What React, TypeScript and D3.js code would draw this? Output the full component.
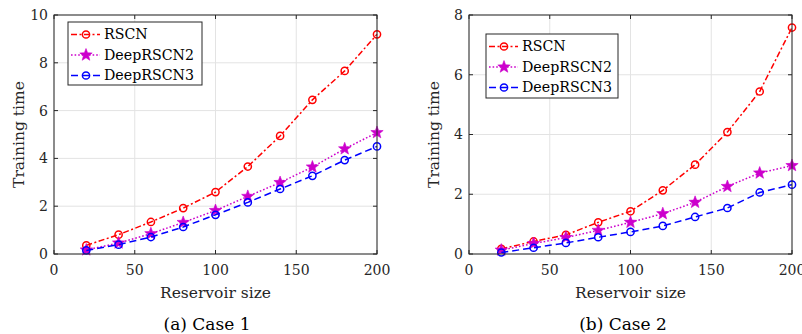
import React from "react";
import * as d3 from "d3";

const sizes = [20, 40, 60, 80, 100, 120, 140, 160, 180, 200];
const xTicks = [0, 50, 100, 150, 200];

const case1RSCN = [0.36, 0.81, 1.34, 1.92, 2.59, 3.66, 4.94, 6.45, 7.66, 9.19];
const case1Deep2 = [0.17, 0.46, 0.85, 1.32, 1.82, 2.41, 2.99, 3.64, 4.40, 5.08];
const case1Deep3 = [0.15, 0.39, 0.71, 1.13, 1.64, 2.16, 2.72, 3.27, 3.93, 4.50];
const case1YTicks = [0, 2, 4, 6, 8, 10];

const case2RSCN = [0.17, 0.42, 0.64, 1.06, 1.43, 2.13, 2.99, 4.08, 5.44, 7.58];
const case2Deep2 = [0.13, 0.35, 0.55, 0.79, 1.06, 1.35, 1.73, 2.26, 2.71, 2.96];
const case2Deep3 = [0.05, 0.21, 0.37, 0.56, 0.74, 0.94, 1.24, 1.54, 2.06, 2.32];
const case2YTicks = [0, 2, 4, 6, 8];

const seriesNames = ["RSCN", "DeepRSCN2", "DeepRSCN3"];
const styles = [
  { color: "#ff0000", dash: "6,2.5,2,2.5", marker: "circle" },
  { color: "#cc00cc", dash: "1.6,2", marker: "star" },
  { color: "#0000ff", dash: "7,4", marker: "circle" },
];

const FONT = "DejaVu Serif";

function starPath(cx: number, cy: number, R: number) {
  const r = R * 0.42;
  const pts: string[] = [];
  for (let i = 0; i < 10; i++) {
    const a = -Math.PI / 2 + (i * Math.PI) / 5;
    const rr = i % 2 === 0 ? R : r;
    pts.push(`${(cx + rr * Math.cos(a)).toFixed(2)},${(cy + rr * Math.sin(a)).toFixed(2)}`);
  }
  return "M" + pts.join("L") + "Z";
}

function Marker({ kind, x, y, color }: { kind: string; x: number; y: number; color: string }) {
  if (kind === "star") return <path d={starPath(x, y, 6.5)} fill={color} stroke={color} strokeWidth={0.6} />;
  return <circle cx={x} cy={y} r={3.6} fill="none" stroke={color} strokeWidth={1.5} />;
}

type PanelProps = {
  x0: number; x1: number; y0: number; y1: number;
  yMax: number; yTicks: number[]; data: number[][];
  legend: { x: number; y: number; w: number; h: number };
  caption: string; captionX: number;
};

function Panel(p: PanelProps) {
  const x = d3.scaleLinear().domain([0, 200]).range([p.x0, p.x1]);
  const y = d3.scaleLinear().domain([0, p.yMax]).range([p.y1, p.y0]);
  const line = d3.line<number>().x((_, i) => x(sizes[i])).y((d) => y(d));
  const axisColor = "#262626";
  const cx = (p.x0 + p.x1) / 2;
  const cy = (p.y0 + p.y1) / 2;
  return (
    <g>
      {xTicks.map((t) => (
        <line key={"gx" + t} x1={x(t)} x2={x(t)} y1={p.y0} y2={p.y1} stroke="#e3e3e3" strokeWidth={1} />
      ))}
      {p.yTicks.map((t) => (
        <line key={"gy" + t} x1={p.x0} x2={p.x1} y1={y(t)} y2={y(t)} stroke="#e3e3e3" strokeWidth={1} />
      ))}
      {p.data.map((vals, si) => (
        <g key={"s" + si}>
          <path d={line(vals) || ""} fill="none" stroke={styles[si].color} strokeWidth={1.5} strokeDasharray={styles[si].dash} />
          {vals.map((v, i) => (
            <Marker key={i} kind={styles[si].marker} x={x(sizes[i])} y={y(v)} color={styles[si].color} />
          ))}
        </g>
      ))}
      <rect x={p.x0} y={p.y0} width={p.x1 - p.x0} height={p.y1 - p.y0} fill="none" stroke={axisColor} strokeWidth={1} />
      {xTicks.map((t) => (
        <g key={"tx" + t}>
          <line x1={x(t)} x2={x(t)} y1={p.y1} y2={p.y1 - 4} stroke={axisColor} />
          <line x1={x(t)} x2={x(t)} y1={p.y0} y2={p.y0 + 4} stroke={axisColor} />
          <text x={x(t)} y={p.y1 + 21} textAnchor="middle" fontSize={14} fill={axisColor}>{t}</text>
        </g>
      ))}
      {p.yTicks.map((t) => (
        <g key={"ty" + t}>
          <line x1={p.x0} x2={p.x0 + 4} y1={y(t)} y2={y(t)} stroke={axisColor} />
          <line x1={p.x1} x2={p.x1 - 4} y1={y(t)} y2={y(t)} stroke={axisColor} />
          <text x={p.x0 - 6} y={y(t)} dy="0.35em" textAnchor="end" fontSize={14} fill={axisColor}>{t}</text>
        </g>
      ))}
      <text x={cx} y={p.y1 + 44} textAnchor="middle" fontSize={15.5} fill={axisColor}>Reservoir size</text>
      <text transform={`translate(${p.x0 - 30},${cy}) rotate(-90)`} textAnchor="middle" fontSize={15.5} fill={axisColor}>Training time</text>
      <rect x={p.legend.x} y={p.legend.y} width={p.legend.w} height={p.legend.h} fill="#ffffff" stroke={axisColor} strokeWidth={1} />
      {seriesNames.map((n, i) => {
        const ly = p.legend.y + 12.5 + i * 20.5;
        const lx = p.legend.x + 3;
        return (
          <g key={"lg" + i}>
            <line x1={lx} x2={lx + 29} y1={ly} y2={ly} stroke={styles[i].color} strokeWidth={1.5} strokeDasharray={styles[i].dash} />
            <Marker kind={styles[i].marker} x={lx + 15} y={ly} color={styles[i].color} />
            <text x={lx + 33} y={ly} dy="0.35em" fontSize={14.2} fill="#000">{n}</text>
          </g>
        );
      })}
      <text x={p.captionX} y={330} textAnchor="middle" fontSize={17} fill="#000">{p.caption}</text>
    </g>
  );
}

export default function App() {
  return (
    <svg width={802} height={334} fontFamily={FONT} style={{ position: "absolute", left: 0, top: 0, background: "#fff", fontFamily: FONT }}>
      <rect width={802} height={334} fill="#fff" />
      <Panel x0={54} x1={377} y0={15} y1={254} yMax={10} yTicks={case1YTicks}
        data={[case1RSCN, case1Deep2, case1Deep3]}
        legend={{ x: 68, y: 22, w: 134, h: 63 }} caption="(a) Case 1" captionX={207} />
      <Panel x0={469} x1={792} y0={15} y1={254} yMax={8} yTicks={case2YTicks}
        data={[case2RSCN, case2Deep2, case2Deep3]}
        legend={{ x: 486, y: 34, w: 132, h: 64 }} caption="(b) Case 2" captionX={623} />
    </svg>
  );
}
